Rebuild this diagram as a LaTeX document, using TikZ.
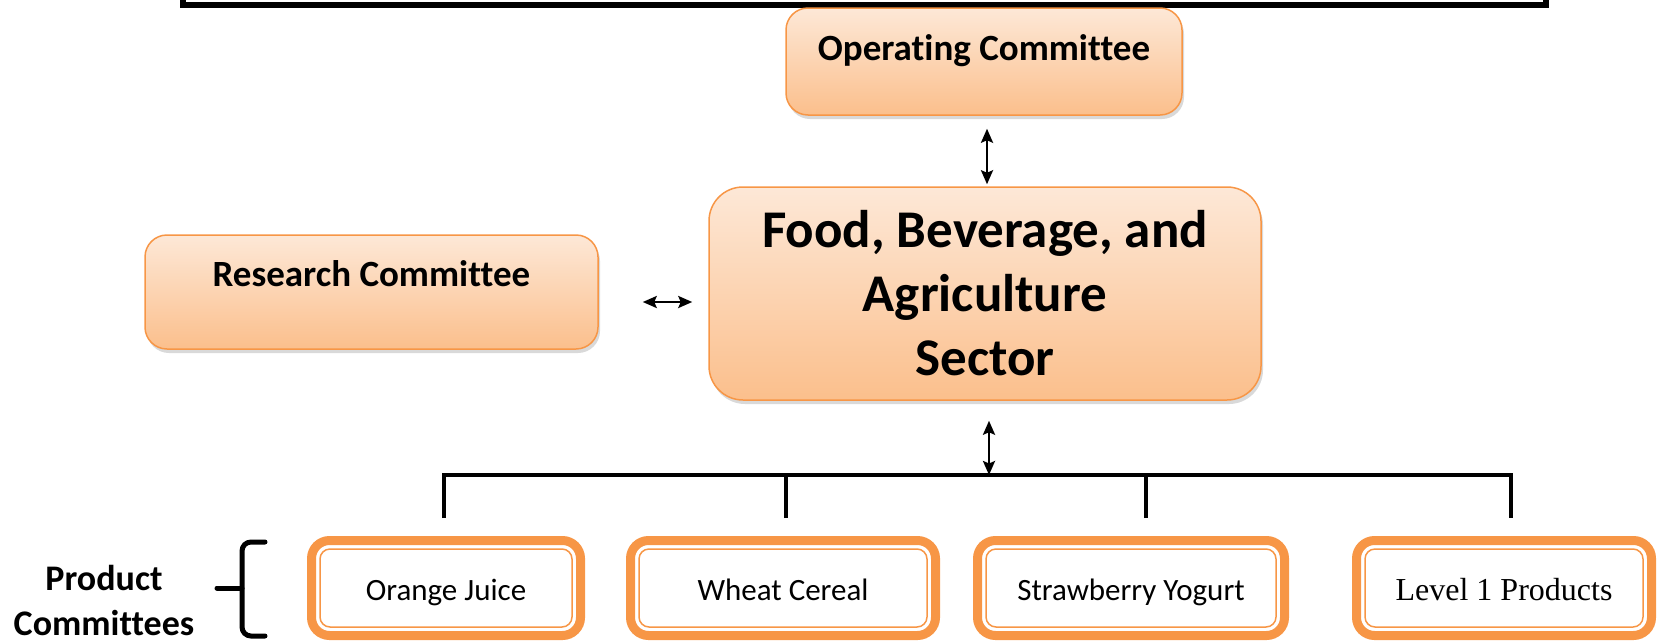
\documentclass[tikz,border=0pt]{standalone}
\usepackage{fontspec}
\setmainfont{Carlito}[Ligatures=NoCommon]
\newfontfamily\serifont{Liberation Serif}
\usetikzlibrary{arrows.meta, shadows}
\definecolor{edgeorange}{HTML}{F79646}
\definecolor{topfill}{HTML}{FDE8D7}
\definecolor{bottomfill}{HTML}{FBBF8C}
\tikzset{
  sectorbox/.style={draw=edgeorange, line width=1.5pt, top color=topfill, bottom color=bottomfill,
    rounded corners=22pt, inner sep=0pt, align=center,
    drop shadow={opacity=.3, shadow xshift=2pt, shadow yshift=-4pt}},
  productbox/.style={draw=edgeorange, line width=9pt, rounded corners=18pt, inner sep=0pt,
    text height=28pt, text depth=4pt, font=\fontsize{31}{37}\selectfont,
    path picture={\draw[edgeorange, line width=1.5pt, rounded corners=10pt]
      ([shift={(8.5pt,8.5pt)}]path picture bounding box.south west) rectangle
      ([shift={(-8.5pt,-8.5pt)}]path picture bounding box.north east);}},
  link/.style={<->, >={Stealth[length=14pt, width=12pt, inset=2.5pt]}, line width=2.5pt},
  busline/.style={line width=4pt},
  bracket/.style={line width=5pt, line cap=round}
}

\begin{document}
\begin{tikzpicture}[x=1pt, y=-1pt]
  \useasboundingbox (0,0) rectangle (1659,643);
  \draw[line width=6pt] (183,-20) -- (183,5) -- (1546,5) -- (1546,-20);

  \node[sectorbox, minimum width=396pt, text height=52pt, text depth=55pt,
    font=\fontsize{37}{44}\selectfont\bfseries] (operating) at (984,61.5) {Operating Committee};
  \node[sectorbox, minimum width=453pt, text height=51pt, text depth=63pt,
    font=\fontsize{37}{44}\selectfont\bfseries] (research) at (371.5,292) {Research Committee};
  \node[sectorbox, rounded corners=34pt, minimum width=552pt, minimum height=213pt,
    font=\fontsize{53}{64}\selectfont\bfseries] (main) at (985,293.5) {Food, Beverage, and\\Agriculture\\Sector};

  \node[productbox, minimum width=269pt, minimum height=95pt] (juice) at (446,588) {Orange Juice};
  \node[productbox, minimum width=305pt, minimum height=95pt] (cereal) at (783,588) {Wheat Cereal};
  \node[productbox, minimum width=307pt, minimum height=95pt] (yogurt) at (1131,588) {Strawberry Yogurt};
  \node[productbox, minimum width=295pt, minimum height=95pt, font=\fontsize{32}{38}\serifont] (level) at (1504,588) {Level 1 Products};

  \node[font=\fontsize{36}{45}\selectfont\bfseries, align=center] (committees) at (104,600) {Product\\Committees};
  \draw[bracket, rounded corners=9pt] (265,542) -- (242,542) -- (242,636) -- (265,636);
  \draw[bracket] (217,588) -- (242,588);

  \coordinate (bus) at (989,475);
  \coordinate (d1) at (444,518);
  \coordinate (d2) at (786,518);
  \coordinate (d3) at (1146,518);
  \coordinate (d4) at (1511,518);

  \draw[link, shorten <=13pt, shorten >=2pt] ([xshift=3pt]operating.south) -- ([xshift=3pt]operating.south |- main.north);
  \draw[link, shorten <=44pt, shorten >=16pt] ([yshift=-10pt]research.east) -- ([yshift=-10pt]research.east -| main.west);
  \draw[link, shorten <=20pt] ([xshift=4pt]main.south) -- (bus);

  \draw[busline] (d1) |- (bus) -| (d4);
  \draw[busline] (d2) -- (d2 |- bus);
  \draw[busline] (d3) -- (d3 |- bus);
\end{tikzpicture}
\end{document}
